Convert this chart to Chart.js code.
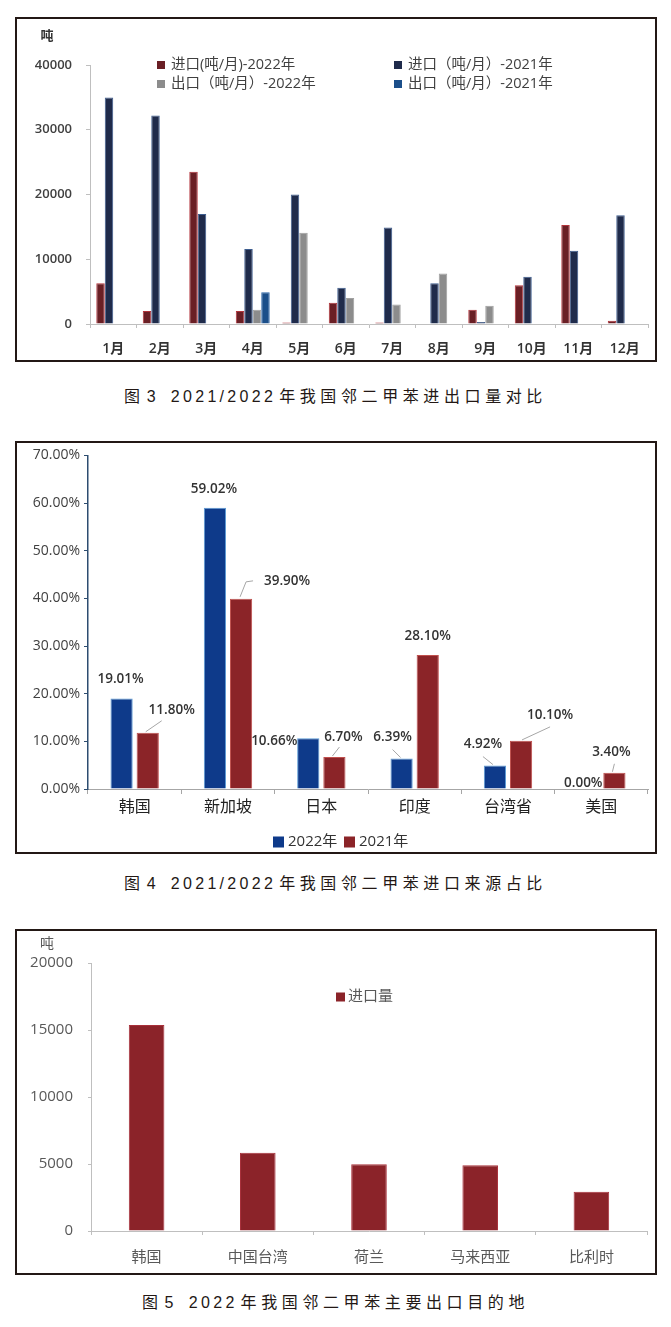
<!DOCTYPE html>
<html>
<head>
<meta charset="utf-8">
<script src="https://cdn.jsdelivr.net/npm/chart.js@4.4.1/dist/chart.umd.min.js"></script>
<style>
    body { margin: 0; width: 671px; height: 1327px; background: #fff; position: relative; overflow: hidden; }
    .frame { position: absolute; left: 15px; width: 638px; border: 2px solid #231815; }
    .frame canvas { display: block; }
    .cap {
        position: absolute; left: 0; width: 671px; text-align: center; white-space: nowrap;
        font-family: 'Liberation Sans', 'Noto Sans CJK SC', sans-serif;
        font-size: 16px; line-height: 20px; color: #231815; letter-spacing: 4.6px;
    }
    .cap .n { letter-spacing: 3.3px; }
    .cap .g1 { margin-left: 2px; }
    .cap .g2 { margin-left: 12px; }
    .cap .g3 { margin-left: 3px; }
</style>
</head>
<body>
<div class="frame" style="top:17px;height:341px"><canvas id="trade-chart" width="638" height="341"></canvas></div>
<div class="cap" style="top:387px"><span>图</span><span class="n g1">3</span><span class="n g2">2021/2022</span><span class="g3">年我国邻二甲苯进出口量对比</span></div>

<div class="frame" style="top:441px;height:409px"><canvas id="source-chart" width="638" height="409"></canvas></div>
<div class="cap" style="top:874px"><span>图</span><span class="n g1">4</span><span class="n g2">2021/2022</span><span class="g3">年我国邻二甲苯进口来源占比</span></div>

<div class="frame" style="top:929px;height:342px"><canvas id="export-chart" width="638" height="342"></canvas></div>
<div class="cap" style="top:1293px"><span>图</span><span class="n g1">5</span><span class="n g2">2022</span><span class="g3">年我国邻二甲苯主要出口目的地</span></div>

<script>
// Chart 1 - monthly import / export (tons per month)
const months = ['1月', '2月', '3月', '4月', '5月', '6月', '7月', '8月', '9月', '10月', '11月', '12月'];
const import2022 = [6300, 2000, 23500, 2000, 250, 3300, 250, 0, 2200, 6000, 15300, 500];
const import2021 = [35000, 32200, 17000, 11600, 20000, 5600, 14900, 6300, 300, 7300, 11300, 16800];
const export2022 = [0, 0, 0, 2200, 14100, 4000, 3000, 7800, 2800, 0, 0, 0];
const export2021 = [0, 0, 0, 4900, 0, 0, 0, 0, 0, 0, 0, 0];
const tradeTicks = [0, 10000, 20000, 30000, 40000];

// Chart 2 - import source share (%)
const sources = ['韩国', '新加坡', '日本', '印度', '台湾省', '美国'];
const share2022 = [19.01, 59.02, 10.66, 6.39, 4.92, 0.00];
const share2021 = [11.80, 39.90, 6.70, 28.10, 10.10, 3.40];
const shareTicks = [0, 10, 20, 30, 40, 50, 60, 70];

// Chart 3 - main export destinations 2022 (tons)
const destinations = ['韩国', '中国台湾', '荷兰', '马来西亚', '比利时'];
const exportVolume = [15370, 5840, 4980, 4900, 2930];
const exportTicks = [0, 5000, 10000, 15000, 20000];

Chart.defaults.font.family = "'Open Sans', 'Noto Sans CJK SC', sans-serif";
Chart.defaults.animation = false;

// Legend drawn as boxes at fixed spots inside the frame, plus the unit label
const boxLegend = {
    id: 'boxLegend',
    afterDraw(chart, args, opts) {
        const ctx = chart.ctx;
        ctx.save();
        ctx.font = opts.font;
        ctx.textBaseline = 'middle';
        chart.data.datasets.forEach((ds, i) => {
            const [x, y] = opts.pos[i];
            ctx.fillStyle = ds.backgroundColor;
            ctx.fillRect(x, y - opts.box / 2, opts.box, opts.box);
            ctx.fillStyle = opts.color;
            ctx.textAlign = 'left';
            ctx.fillText(ds.label, x + opts.box + opts.gap, y);
        });
        if (opts.unit) {
            ctx.font = opts.unit.font;
            ctx.fillStyle = opts.unit.color;
            ctx.textAlign = 'center';
            ctx.fillText(opts.unit.text, opts.unit.x, opts.unit.y);
        }
        ctx.restore();
    }
};

// Value labels with little leader lines (chart 2)
const barLabels = {
    id: 'barLabels',
    afterDatasetsDraw(chart, args, opts) {
        if (!opts.offsets) return;
        const ctx = chart.ctx;
        ctx.save();
        ctx.font = opts.font;
        ctx.textAlign = 'center';
        ctx.textBaseline = 'middle';
        chart.data.datasets.forEach((ds, di) => {
            const meta = chart.getDatasetMeta(di);
            meta.data.forEach((bar, i) => {
                const lead = opts.leaders[di][i];
                if (lead) {
                    ctx.strokeStyle = '#a6a6a6';
                    ctx.lineWidth = 1;
                    ctx.beginPath();
                    ctx.moveTo(bar.x + lead[0], bar.y + lead[1]);
                    for (let k = 2; k < lead.length; k += 2) {
                        ctx.lineTo(bar.x + lead[k], bar.y + lead[k + 1]);
                    }
                    ctx.stroke();
                }
                const off = opts.offsets[di][i];
                ctx.fillStyle = opts.color;
                ctx.fillText(ds.data[i].toFixed(2) + '%', bar.x + off[0], bar.y + off[1]);
            });
        });
        ctx.restore();
    }
};

function fixedTicks(list) {
    return scale => { scale.ticks = list.map(v => ({ value: v })); };
}

// ---------- Chart 1 ----------
new Chart(document.getElementById('trade-chart'), {
    type: 'bar',
    data: {
        labels: months,
        datasets: [
            { label: '进口(吨/月)-2022年', data: import2022, backgroundColor: '#6a1f25', borderColor: '#b3333a', borderWidth: 1 },
            { label: '进口（吨/月）-2021年', data: import2021, backgroundColor: '#1f2b4b', borderColor: '#3d5d8f', borderWidth: 1 },
            { label: '出口（吨/月）-2022年', data: export2022, backgroundColor: '#8c8c8c', borderColor: '#a0a0a0', borderWidth: 1 },
            { label: '出口（吨/月）-2021年', data: export2021, backgroundColor: '#1b4f8a', borderColor: '#2b66a8', borderWidth: 1 }
        ]
    },
    options: {
        responsive: false,
        layout: { padding: { top: 46, right: 7, left: 0, bottom: 0 } },
        datasets: { bar: { categoryPercentage: 0.73, barPercentage: 1.0 } },
        plugins: {
            legend: { display: false },
            tooltip: { enabled: false },
            boxLegend: {
                pos: [[140, 46], [377, 46], [140, 65], [377, 65]],
                box: 8, gap: 6, font: "14.5px 'Open Sans', 'Noto Sans CJK SC'", color: '#404040',
                unit: { text: '吨', x: 30, y: 16, font: "bold 13px 'Noto Sans CJK SC'", color: '#333' }
            }
        },
        scales: {
            x: {
                afterFit: s => { s.height = 36; },
                grid: { drawOnChartArea: false, tickLength: 4, color: '#bfbfbf' },
                border: { color: '#bfbfbf' },
                ticks: { padding: 13, color: '#333', font: { size: 14, weight: '600' } }
            },
            y: {
                min: 0, max: 40000,
                afterFit: s => { s.width = 73; },
                afterBuildTicks: fixedTicks(tradeTicks),
                grid: { drawOnChartArea: false, tickLength: 4, color: '#bfbfbf' },
                border: { color: '#bfbfbf' },
                ticks: { padding: 14, color: '#404040', font: { size: 13, weight: '600' }, callback: v => String(v) }
            }
        }
    },
    plugins: [boxLegend]
});

// ---------- Chart 2 ----------
new Chart(document.getElementById('source-chart'), {
    type: 'bar',
    data: {
        labels: sources,
        datasets: [
            { label: '2022年', data: share2022, backgroundColor: '#0e3a8a', borderColor: '#5b9bd5', borderWidth: 1 },
            { label: '2021年', data: share2021, backgroundColor: '#8b2428', borderColor: '#c0504d', borderWidth: 1 }
        ]
    },
    options: {
        responsive: false,
        layout: { padding: { top: 12, right: 7, left: 0, bottom: 0 } },
        datasets: { bar: { categoryPercentage: 0.56, barPercentage: 0.85 } },
        plugins: {
            legend: { display: false },
            tooltip: { enabled: false },
            boxLegend: {
                pos: [[256, 399], [327, 399]],
                box: 11, gap: 4, font: "15px 'Open Sans', 'Noto Sans CJK SC'", color: '#333'
            },
            barLabels: {
                font: "600 13.5px 'Open Sans'", color: '#333',
                offsets: [
                    [[-1, -19], [-1, -19], [-34, 3], [-9, -21], [-12, -21], [-5, -6]],
                    [[24, -23], [46, -18], [9, -20], [0, -19], [29, -26], [-3, -21]]
                ],
                leaders: [
                    [null, null, null, [-1, -1, -9, -9], [-2, -1, -12, -9], null],
                    [[-2, -1, 14, -12], [-1, -2, 5, -17, 12, -18], [-2, -1, 5, -10], null, [1, -1, 29, -14], [-2, -1, 0, -9]]
                ]
            }
        },
        scales: {
            x: {
                afterFit: s => { s.height = 63; },
                grid: { drawOnChartArea: false, tickLength: 5, color: '#a6a6a6' },
                border: { color: '#a6a6a6' },
                ticks: { padding: 4, color: '#222', font: { size: 16 } }
            },
            y: {
                min: 0, max: 70,
                afterFit: s => { s.width = 71; },
                afterBuildTicks: fixedTicks(shareTicks),
                grid: { drawOnChartArea: false, tickLength: 4, color: '#2d4d70' },
                border: { color: '#2d4d70', width: 1.5 },
                ticks: { padding: 4, color: '#404040', font: { size: 14 }, callback: v => v.toFixed(2) + '%' }
            }
        }
    },
    plugins: [boxLegend, barLabels]
});

// ---------- Chart 3 ----------
new Chart(document.getElementById('export-chart'), {
    type: 'bar',
    data: {
        labels: destinations,
        datasets: [
            { label: '进口量', data: exportVolume, backgroundColor: '#8b2329', borderColor: '#a8303a', borderWidth: 1 }
        ]
    },
    options: {
        responsive: false,
        layout: { padding: { top: 32, right: 8, left: 0, bottom: 0 } },
        datasets: { bar: { categoryPercentage: 0.8, barPercentage: 0.4 } },
        plugins: {
            legend: { display: false },
            tooltip: { enabled: false },
            boxLegend: {
                pos: [[319, 66]],
                box: 9, gap: 3, font: "15px 'Open Sans', 'Noto Sans CJK SC'", color: '#595959',
                unit: { text: '吨', x: 30, y: 12, font: "14px 'Noto Sans CJK SC'", color: '#595959' }
            }
        },
        scales: {
            x: {
                afterFit: s => { s.height = 42; },
                grid: { drawOnChartArea: false, tickLength: 4, color: '#bfbfbf' },
                border: { color: '#bfbfbf' },
                ticks: { padding: 14, color: '#595959', font: { size: 15 } }
            },
            y: {
                min: 0, max: 20000,
                afterFit: s => { s.width = 74; },
                afterBuildTicks: fixedTicks(exportTicks),
                grid: { drawOnChartArea: false, tickLength: 3, color: '#bfbfbf' },
                border: { color: '#bfbfbf' },
                ticks: { padding: 15, color: '#595959', font: { size: 15 }, callback: v => String(v) }
            }
        }
    },
    plugins: [boxLegend]
});
</script>
</body>
</html>
